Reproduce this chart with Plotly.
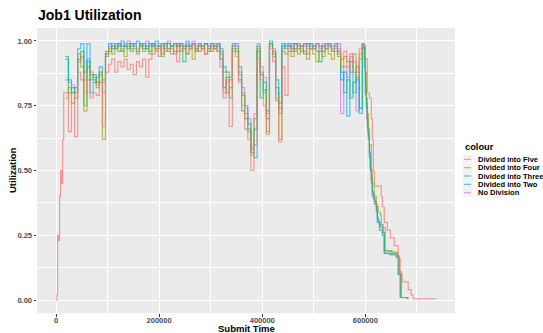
import plotly.graph_objects as go

series_names = ["Divided into Five", "Divided into Four", "Divided into Three",
                "Divided into Two", "No Division"]
series_colors = ["#F8766D", "#A3A500", "#00BF7D", "#00B0F6", "#E76BF3"]

x_tick_vals = [0, 200000, 400000, 600000]
x_tick_text = ["0", "200000", "400000", "600000"]
y_tick_vals = [0.0, 0.25, 0.5, 0.75, 1.0]
y_tick_text = ["0.00", "0.25", "0.50", "0.75", "1.00"]

# start-up ramp (visible for the "Divided into Five" run)
ramp_time = [0, 1500, 3000, 5000, 7000, 9000, 11000, 13000, 15000]
ramp_util = [0.0, 0.02, 0.25, 0.23, 0.40, 0.50, 0.45, 0.62, 0.80]

main_time = [18000, 24000, 30000, 36000, 42000, 48000, 54000, 60000, 66000, 72000,
             78000, 84000, 90000, 96000, 102000, 108000, 114000, 120000, 126000, 132000,
             138000, 144000, 150000, 156000, 162000, 168000, 174000, 180000, 186000, 192000,
             198000, 204000, 210000, 216000, 222000, 228000, 234000, 240000, 246000, 252000,
             258000, 264000, 270000, 276000, 282000, 288000, 294000, 300000, 306000, 312000,
             318000, 324000, 330000, 336000, 342000, 348000, 354000, 360000, 366000, 372000,
             378000, 384000, 390000, 396000, 402000, 408000, 414000, 420000, 426000, 432000,
             438000, 444000, 450000, 456000, 462000, 468000, 474000, 480000, 486000, 492000,
             498000, 504000, 510000, 516000, 522000, 528000, 534000, 540000, 546000, 552000,
             558000, 564000, 570000, 576000, 582000, 588000, 594000]

five_main = [0.80, 0.65, 0.80, 0.63, 0.88, 0.85, 0.80, 0.85, 0.78, 0.80, 0.79, 0.84, 0.67, 0.88,
             0.91, 0.93, 0.88, 0.92, 0.90, 0.93, 0.89, 0.91, 0.87, 0.92, 0.90, 0.93, 0.86, 0.93,
             0.95, 0.97, 0.94, 0.98, 0.96, 0.97, 0.95, 0.98, 0.92, 0.97, 0.98, 0.95, 0.97, 0.99,
             0.96, 0.98, 0.97, 0.95, 0.98, 0.97, 0.99, 0.96,
             0.95, 0.78, 0.85, 0.67, 0.96, 0.94, 0.84, 0.75, 0.66, 0.62, 0.50, 0.60, 0.93, 0.85,
             0.75, 0.65, 0.97, 0.92, 0.78, 0.61, 0.90, 0.79,
             0.97, 0.98, 0.96, 0.99, 0.97, 0.98, 0.95, 0.98, 0.97, 0.99, 0.96, 0.98, 0.97, 0.99,
             0.96, 0.98, 0.97,
             0.93, 0.96, 0.90, 0.95, 0.92, 0.88, 0.97, 0.99]
four_main = [0.78, 0.82, 0.76, 0.80, 0.95, 0.90, 0.73, 0.90, 0.87, 0.85, 0.82, 0.88, 0.62, 0.94,
             0.97, 0.95, 0.98, 0.96, 0.97, 0.94, 0.98, 0.96, 0.97, 0.95, 0.98, 0.96, 0.97, 0.95,
             0.98, 0.96, 0.97, 0.94, 0.98, 0.96, 0.97, 0.95, 0.98, 0.96, 0.97, 0.95, 0.98, 0.93,
             0.97, 0.96, 0.98, 0.95, 0.97, 0.96, 0.98, 0.96,
             0.96, 0.88, 0.80, 0.82, 0.98, 0.97, 0.88, 0.80, 0.72, 0.65, 0.56, 0.70, 0.97, 0.88,
             0.80, 0.64, 0.98, 0.94, 0.77, 0.62, 0.96, 0.95,
             0.96, 0.94, 0.97, 0.95, 0.98, 0.96, 0.93, 0.97, 0.95, 0.92, 0.96, 0.94, 0.97, 0.95,
             0.93, 0.96, 0.94,
             0.90, 0.94, 0.92, 0.88, 0.95, 0.85, 0.93, 0.98]
three_main = [0.94, 0.80, 0.82, 0.78, 0.93, 0.96, 0.75, 0.92, 0.85, 0.87, 0.84, 0.87, 0.80, 0.95,
              0.96, 0.98, 0.97, 0.99, 0.96, 0.98, 0.97, 0.99, 0.98, 0.96, 0.99, 0.97, 0.98, 0.96,
              0.99, 0.97, 0.98, 0.95, 0.99, 0.97, 0.98, 0.96, 0.99, 0.98, 0.92, 0.98, 0.97, 0.99,
              0.96, 0.98, 0.97, 0.99, 0.96, 0.98, 0.97, 0.98,
              0.93, 0.82, 0.86, 0.78, 0.97, 0.96, 0.85, 0.73, 0.70, 0.68, 0.58, 0.66, 0.98, 0.78,
              0.84, 0.70, 0.99, 0.96, 0.82, 0.72, 0.98, 0.97,
              0.98, 0.96, 0.99, 0.97, 0.98, 0.95, 0.99, 0.97, 0.98, 0.96, 0.92, 0.98, 0.97, 0.99,
              0.96, 0.98, 0.95,
              0.88, 0.80, 0.85, 0.78, 0.84, 0.90, 0.74, 0.99]
two_main = [0.93, 0.85, 0.80, 0.82, 0.97, 0.99, 0.88, 0.99, 0.80, 0.84, 0.86, 0.90, 0.85, 0.96,
            0.99, 0.97, 0.99, 0.98, 1.00, 0.98, 0.99, 0.97, 0.99, 1.00, 0.98, 0.99, 0.97, 0.99,
            0.98, 1.00, 0.98, 0.99, 0.97, 0.99, 0.98, 0.99, 0.96, 0.99, 0.98, 1.00, 0.98, 0.99,
            0.97, 0.99, 0.98, 0.99, 0.97, 0.99, 0.98, 0.99,
            0.97, 0.90, 0.88, 0.86, 0.99, 0.98, 0.90, 0.79, 0.75, 0.66, 0.57, 0.55, 0.96, 0.87,
            0.81, 0.73, 1.00, 0.95, 0.85, 0.76, 0.99, 0.98,
            0.99, 0.97, 0.99, 0.98, 0.96, 0.99, 0.98, 0.99, 0.97, 0.99, 0.98, 0.96, 0.99, 0.98,
            0.97, 0.99, 0.96,
            0.85, 0.88, 0.71, 0.92, 0.80, 0.86, 0.72, 0.99]
nodiv_main = [0.85, 0.84, 0.83, 0.80, 0.92, 0.94, 0.85, 0.93, 0.88, 0.86, 0.83, 0.88, 0.84, 0.95,
              0.98, 0.99, 0.97, 0.99, 0.98, 0.99, 1.00, 0.98, 0.99, 0.97, 0.99, 0.98, 1.00, 0.98,
              0.99, 0.98, 0.99, 0.97, 0.99, 1.00, 0.98, 0.99, 0.98, 0.99, 0.97, 0.99, 0.98, 1.00,
              0.98, 0.99, 0.97, 0.99, 0.98, 0.99, 0.97, 0.99,
              0.90, 0.80, 0.84, 0.85, 0.98, 0.99, 0.87, 0.82, 0.74, 0.70, 0.59, 0.72, 0.99, 0.90,
              0.86, 0.72, 0.99, 0.97, 0.80, 0.74, 0.97, 0.99,
              0.98, 0.99, 0.97, 0.99, 0.98, 0.99, 0.97, 0.99, 0.98, 0.99, 0.97, 0.99, 0.98, 0.99,
              0.98, 0.97, 0.99,
              0.72, 0.90, 0.86, 0.94, 0.88, 0.73, 0.95, 0.98]

# wind-down tails
five_tail_time = [596200, 600000, 603900, 607800, 611600, 613500, 615500, 617400, 630900,
                  632800, 636700, 642500, 648300, 656000, 663700, 667600, 671400, 683000,
                  688800, 692700, 737000]
five_tail_util = [0.98, 0.93, 0.80, 0.78, 0.70, 0.62, 0.50, 0.44, 0.40, 0.36, 0.30, 0.27,
                  0.24, 0.21, 0.16, 0.10, 0.07, 0.04, 0.02, 0.005, 0.003]
four_tail_time = [596200, 600000, 602000, 603900, 605800, 607800, 611600, 613500, 617400,
                  621300, 625100, 629000, 630900, 634800, 638600, 652100, 661800, 665600,
                  669500, 683000]
four_tail_util = [0.98, 0.88, 0.78, 0.72, 0.66, 0.60, 0.50, 0.45, 0.40, 0.36, 0.34, 0.33,
                  0.29, 0.28, 0.19, 0.185, 0.17, 0.11, 0.01, 0.005]
three_tail_time = [596200, 598100, 600000, 602000, 603900, 605800, 607800, 609700, 611600,
                   613500, 617400, 621300, 623200, 627100, 632800, 636700, 648300, 659900,
                   663700, 667600, 681100]
three_tail_util = [0.97, 0.90, 0.80, 0.74, 0.67, 0.62, 0.55, 0.50, 0.46, 0.41, 0.38, 0.34,
                   0.30, 0.27, 0.25, 0.18, 0.175, 0.165, 0.10, 0.01, 0.005]
two_tail_time = [596200, 598100, 600000, 602000, 603900, 605800, 607800, 609700, 611600,
                 613500, 615500, 619300, 623200, 625100, 629000, 634800, 636700, 650200,
                 661800, 665600, 669500, 681100]
two_tail_util = [0.99, 0.93, 0.84, 0.76, 0.70, 0.64, 0.57, 0.51, 0.47, 0.42, 0.39, 0.37,
                 0.32, 0.30, 0.28, 0.26, 0.19, 0.18, 0.17, 0.10, 0.01, 0.005]
nodiv_tail_time = [596200, 598100, 600000, 602000, 603900, 605800, 607800, 609700, 611600,
                   613500, 617400, 621300, 623200, 627100, 632800, 636700, 646300, 659900,
                   663700, 667600, 679100]
nodiv_tail_util = [0.98, 0.90, 0.79, 0.70, 0.65, 0.63, 0.56, 0.50, 0.45, 0.40, 0.37, 0.35,
                   0.31, 0.29, 0.26, 0.18, 0.175, 0.17, 0.10, 0.01, 0.005]

mains = [five_main, four_main, three_main, two_main, nodiv_main]
tails = [(five_tail_time, five_tail_util), (four_tail_time, four_tail_util),
         (three_tail_time, three_tail_util), (two_tail_time, two_tail_util),
         (nodiv_tail_time, nodiv_tail_util)]

FONT = "Liberation Sans, Arial, sans-serif"
W, H = 543, 333
ML, MR, MT, MB = 37, 88, 28, 20
PW, PH = W - ML - MR, H - MT - MB


def px_x(p):
    return (p - ML) / PW


def px_y(p):
    return (H - MB - p) / PH


fig = go.Figure()
order = list(range(len(series_names)))[::-1]   # "Divided into Five" drawn on top
for i in order:
    tt, tu = tails[i]
    xs = (ramp_time if i == 0 else []) + main_time + tt
    ys = (ramp_util if i == 0 else []) + mains[i] + tu
    fig.add_trace(go.Scatter(
        x=xs, y=ys, mode="lines", name=series_names[i],
        line=dict(color=series_colors[i], width=1.15, shape="hv"),
        opacity=0.72, showlegend=False, hoverinfo="skip"))

# legend drawn ggplot-style
shapes = []
annotations = [dict(text="<b>colour</b>", x=px_x(463), y=px_y(147), xref="paper", yref="paper",
                    xanchor="left", yanchor="middle", showarrow=False,
                    font=dict(family=FONT, size=9.3, color="black"))]
key_h = 8.33
key_top = 155.2
for i, (name, color) in enumerate(zip(series_names, series_colors)):
    yc = key_top + key_h * (i + 0.5)
    shapes.append(dict(type="rect", xref="paper", yref="paper",
                       x0=px_x(463), x1=px_x(472), y0=px_y(yc + key_h / 2), y1=px_y(yc - key_h / 2),
                       fillcolor="#F2F2F2", line=dict(width=0), layer="above"))
    shapes.append(dict(type="line", xref="paper", yref="paper",
                       x0=px_x(464), x1=px_x(471), y0=px_y(yc), y1=px_y(yc),
                       line=dict(color=color, width=1.1), opacity=0.75, layer="above"))
    annotations.append(dict(text="<b>" + name + "</b>", x=px_x(476.5), y=px_y(yc),
                            xref="paper", yref="paper", xanchor="left", yanchor="middle",
                            showarrow=False, font=dict(family=FONT, size=7.5, color="black")))

# axis titles and chart title as annotations for exact placement
annotations.append(dict(text="<b>Submit Time</b>", x=px_x(246), y=px_y(328), xref="paper",
                        yref="paper", xanchor="center", yanchor="middle", showarrow=False,
                        font=dict(family=FONT, size=9.5, color="black")))
annotations.append(dict(text="<b>Utilization</b>", x=px_x(12.5), y=px_y(170.5), xref="paper",
                        yref="paper", xanchor="center", yanchor="middle", showarrow=False,
                        textangle=-90, font=dict(family=FONT, size=9.5, color="black")))
annotations.append(dict(text="<b>Job1 Utilization</b>", x=px_x(89.5), y=px_y(14.5), xref="paper",
                        yref="paper", xanchor="center", yanchor="middle", showarrow=False,
                        font=dict(family=FONT, size=14, color="black")))

fig.update_layout(
    width=W, height=H, margin=dict(l=ML, r=MR, t=MT, b=MB, pad=0), autosize=False,
    paper_bgcolor="white", plot_bgcolor="#EBEBEB", showlegend=False,
    font=dict(family=FONT),
    xaxis=dict(range=[-36850, 773850], tickmode="array", tickvals=x_tick_vals,
               ticktext=x_tick_text, ticks="outside", ticklen=2.5, tickwidth=1.1,
               tickcolor="#333333", ticklabelstandoff=-3,
               tickfont=dict(family=FONT, size=7.5, color="#4D4D4D", weight="bold"),
               showgrid=True, gridcolor="white", gridwidth=1.1, zeroline=False, showline=False,
               automargin=False,
               minor=dict(tickvals=[100000, 300000, 500000, 700000], showgrid=True,
                          gridcolor="white", gridwidth=0.55, ticks="")),
    yaxis=dict(range=[-0.05, 1.05], tickmode="array", tickvals=y_tick_vals,
               ticktext=y_tick_text, ticks="outside", ticklen=2.5, tickwidth=1.1,
               tickcolor="#333333",
               tickfont=dict(family=FONT, size=7.5, color="#4D4D4D", weight="bold"),
               showgrid=True, gridcolor="white", gridwidth=1.1, zeroline=False, showline=False,
               automargin=False,
               minor=dict(tickvals=[0.125, 0.375, 0.625, 0.875], showgrid=True,
                          gridcolor="white", gridwidth=0.55, ticks="")),
    shapes=shapes, annotations=annotations,
)

fig.write_html("out.html", config={"displayModeBar": False},
               post_script="document.body.style.margin='0px';document.body.style.padding='0px';"
                           "document.body.style.overflow='hidden';")
